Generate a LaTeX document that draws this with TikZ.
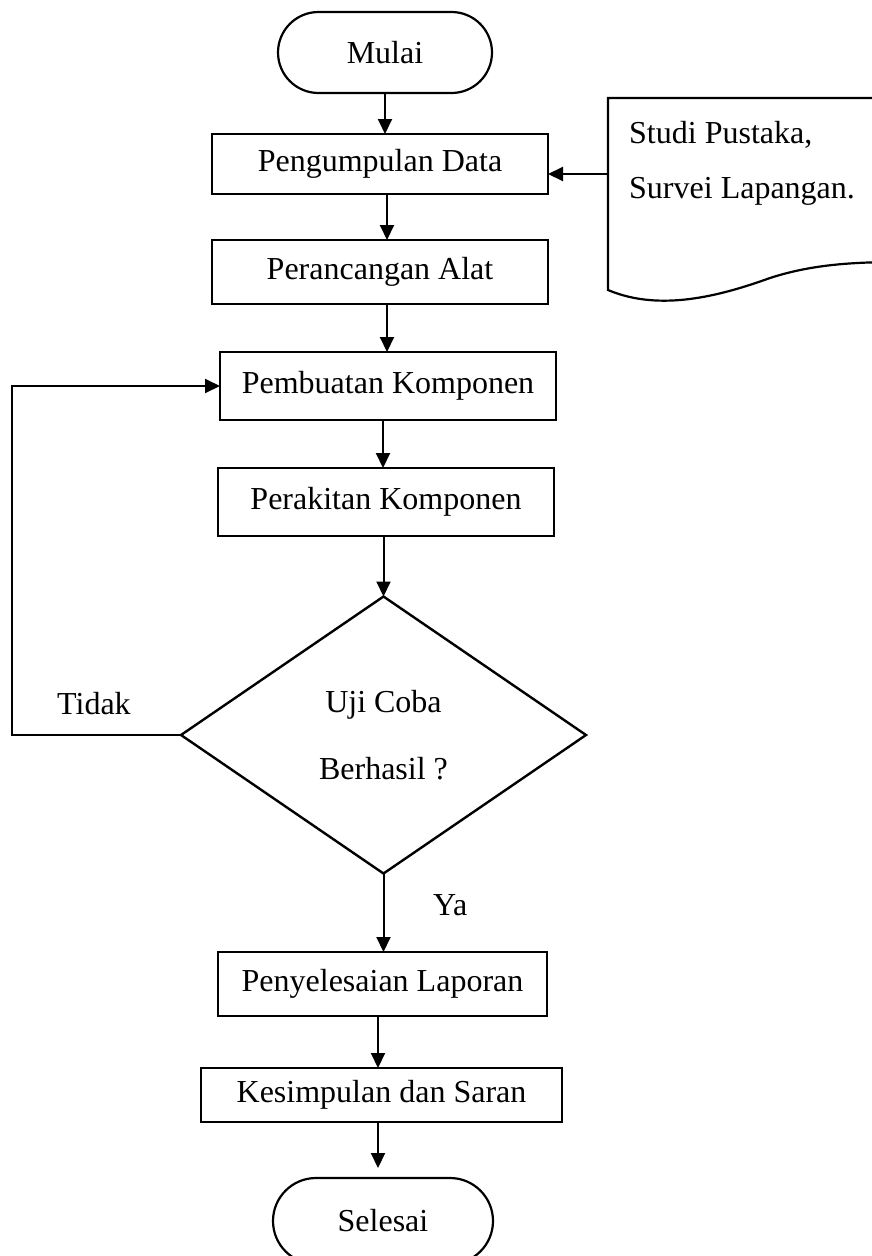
\documentclass[tikz,border=0pt]{standalone}
\usepackage{fontspec}
\setmainfont{Liberation Serif}
\usetikzlibrary{arrows.meta,shapes.geometric,shapes.misc}
\begin{document}
\begin{tikzpicture}[x=1pt,y=-1pt,
  every node/.style={font=\fontsize{32}{38}\selectfont},
  procbox/.style={draw, line width=1.4pt, rectangle, inner sep=0pt, outer sep=0pt},
  termbox/.style={draw, line width=2.2pt, rounded rectangle, inner sep=0pt, outer sep=0pt},
  decbox/.style={draw, line width=2.4pt, diamond, inner sep=0pt, outer sep=0pt, align=center},
  arr/.style={line width=2pt, -{Triangle[length=15pt,width=14pt]}},
  lbl/.style={inner sep=0pt, anchor=base west}
]
\useasboundingbox (0,0) rectangle (871,1256);

% nodes
\node[termbox, minimum width=214pt, minimum height=81pt] (mulai) at (385,52.5) {Mulai};
\node[procbox, minimum width=336pt, minimum height=60pt] (data) at (380,164) {Pengumpulan Data};
\node[procbox, minimum width=336pt, minimum height=64pt] (alat) at (380,272) {Perancangan Alat};
\node[procbox, minimum width=336pt, minimum height=68pt] (buat) at (388,386) {Pembuatan Komponen};
\node[procbox, minimum width=336pt, minimum height=68pt] (rakit) at (386,502) {Perakitan Komponen};
\node[decbox, minimum width=405pt, minimum height=277pt] (uji) at (383.5,735) {Uji Coba\\[29pt]Berhasil ?};
\node[procbox, minimum width=329pt, minimum height=64pt] (lapor) at (382.5,984) {Penyelesaian Laporan};
\node[procbox, minimum width=361pt, minimum height=54pt] (simpul) at (381.5,1095) {Kesimpulan dan Saran};
\node[termbox, minimum width=220pt, minimum height=86pt] (selesai) at (383,1221) {Selesai};

% document shape
\draw[line width=2.2pt] (900,98) -- (608,98) -- (608,290)
  .. controls (660,312) and (720,296) .. (770,278)
  .. controls (810,265) and (850,262) .. (900,262);
\node[lbl] (studi) at (629,143) {Studi Pustaka,};
\node[lbl] (survei) at (629,198) {Survei Lapangan.};
\coordinate (docin) at (608,174);

% labels
\node[lbl] (tidak) at (57,714) {Tidak};
\node[lbl] (ya) at (433,915) {Ya};

% connectors
\draw[arr] (mulai.south) -- (mulai.south |- data.north);
\draw[arr] ([xshift=7pt]data.south) -- ([xshift=7pt]data.south |- alat.north);
\draw[arr] ([xshift=7pt]alat.south) -- ([xshift=7pt]alat.south |- buat.north);
\draw[arr] ([xshift=-5pt]buat.south) -- ([xshift=-5pt]buat.south |- rakit.north);
\draw[arr] (rakit.south -| uji.north) -- (uji.north);
\draw[arr] (uji.south) -- (uji.south |- lapor.north);
\draw[arr] ([xshift=-4.5pt]lapor.south) -- ([xshift=-4.5pt]lapor.south |- simpul.north);
\draw[arr, shorten >=10pt] ([xshift=-3.5pt]simpul.south) -- ([xshift=-3.5pt]simpul.south |- selesai.north);
\draw[arr] (docin) -- (docin -| data.east);
\coordinate (loop) at (12,735);
\draw[arr] (uji.west) -- (loop) |- (buat.west);
\end{tikzpicture}
\end{document}
